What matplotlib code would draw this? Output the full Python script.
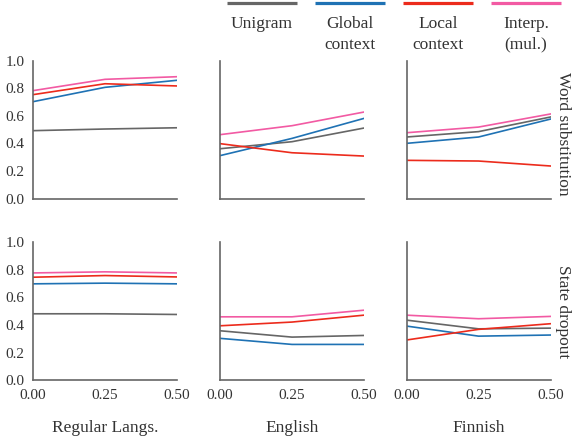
import numpy as np
import matplotlib
matplotlib.use("Agg")
import matplotlib.pyplot as plt

plt.rcParams['font.family'] = ['Liberation Serif', 'DejaVu Serif']

noise = [0.00, 0.25, 0.50]
methods = ['Unigram', 'Global\ncontext', 'Local\ncontext', 'Interp.\n(mul.)']
colors = ['#666666', '#1f72b4', '#ec2b1c', '#f25aa3']
languages = ['Regular Langs.', 'English', 'Finnish']
settings = ['Word substitution', 'State dropout']

# word substitution: [unigram, global, local, interp] per language
word_regular = [[0.493, 0.505, 0.514], [0.703, 0.807, 0.858],
                [0.754, 0.833, 0.817], [0.783, 0.865, 0.884]]
word_english = [[0.362, 0.413, 0.512], [0.312, 0.437, 0.582],
                [0.399, 0.333, 0.309], [0.464, 0.529, 0.628]]
word_finnish = [[0.447, 0.486, 0.592], [0.401, 0.447, 0.577],
                [0.278, 0.273, 0.237], [0.478, 0.519, 0.614]]

# state dropout
drop_regular = [[0.482, 0.482, 0.477], [0.699, 0.704, 0.699],
                [0.747, 0.759, 0.749], [0.778, 0.786, 0.778]]
drop_english = [[0.359, 0.313, 0.325], [0.304, 0.260, 0.260],
                [0.395, 0.422, 0.472], [0.460, 0.460, 0.508]]
drop_finnish = [[0.436, 0.373, 0.378], [0.393, 0.320, 0.328],
                [0.292, 0.369, 0.410], [0.472, 0.446, 0.463]]

results = [[word_regular, word_english, word_finnish],
           [drop_regular, drop_english, drop_finnish]]

W, H = 574, 441
fig = plt.figure(figsize=(W / 100, H / 100), dpi=100)

lefts = [33, 220, 406.5]
tops = [60.7, 242.3]
aw, ah = 144, 138
text_col = '#333333'
spine_col = '#666666'

for r in range(2):
    for c in range(3):
        ax = fig.add_axes([lefts[c] / W, 1 - (tops[r] + ah) / H, aw / W, ah / H])
        for m in range(4):
            ax.plot(noise, results[r][c][m], color=colors[m], lw=1.2)
        ax.set_xlim(0, 0.5)
        ax.set_ylim(0, 1)
        ax.set_xticks(noise)
        ax.set_yticks([0.0, 0.2, 0.4, 0.6, 0.8, 1.0])
        ax.xaxis.set_major_formatter(matplotlib.ticker.FormatStrFormatter('%.2f'))
        ax.yaxis.set_major_formatter(matplotlib.ticker.FormatStrFormatter('%.1f'))
        for s in ['top', 'right']:
            ax.spines[s].set_visible(False)
        for s in ['left', 'bottom']:
            ax.spines[s].set_color(spine_col)
            ax.spines[s].set_linewidth(1.2)
        ax.tick_params(length=0, pad=6, labelsize=11, colors=text_col)
        if r == 0:
            ax.tick_params(labelbottom=False)
        else:
            ax.set_xlabel(languages[c], fontsize=12.5, color=text_col, labelpad=13)
        if c > 0:
            ax.tick_params(labelleft=False)
        if c == 2:
            ax.text(1.09, 0.47 if r == 0 else 0.5, settings[r], transform=ax.transAxes,
                    rotation=-90, ha='center', va='center', fontsize=12.5, color=text_col)

# legend: lines above labels
lax = fig.add_axes([218 / W, 1 - 60 / H, 352 / W, 60 / H])
lax.set_xlim(0, 4)
lax.set_ylim(60, 0)
lax.axis('off')
for i, (name, col) in enumerate(zip(methods, colors)):
    lax.plot([i + 0.1, i + 0.9], [2.5, 2.5], color=col, lw=2.3, clip_on=False,
             solid_capstyle='butt')
    lax.text(i + 0.5, 16.5, name, ha='center', va='top', fontsize=12.5,
             color=text_col, linespacing=1.35)

fig.savefig('out.png', dpi=100)
